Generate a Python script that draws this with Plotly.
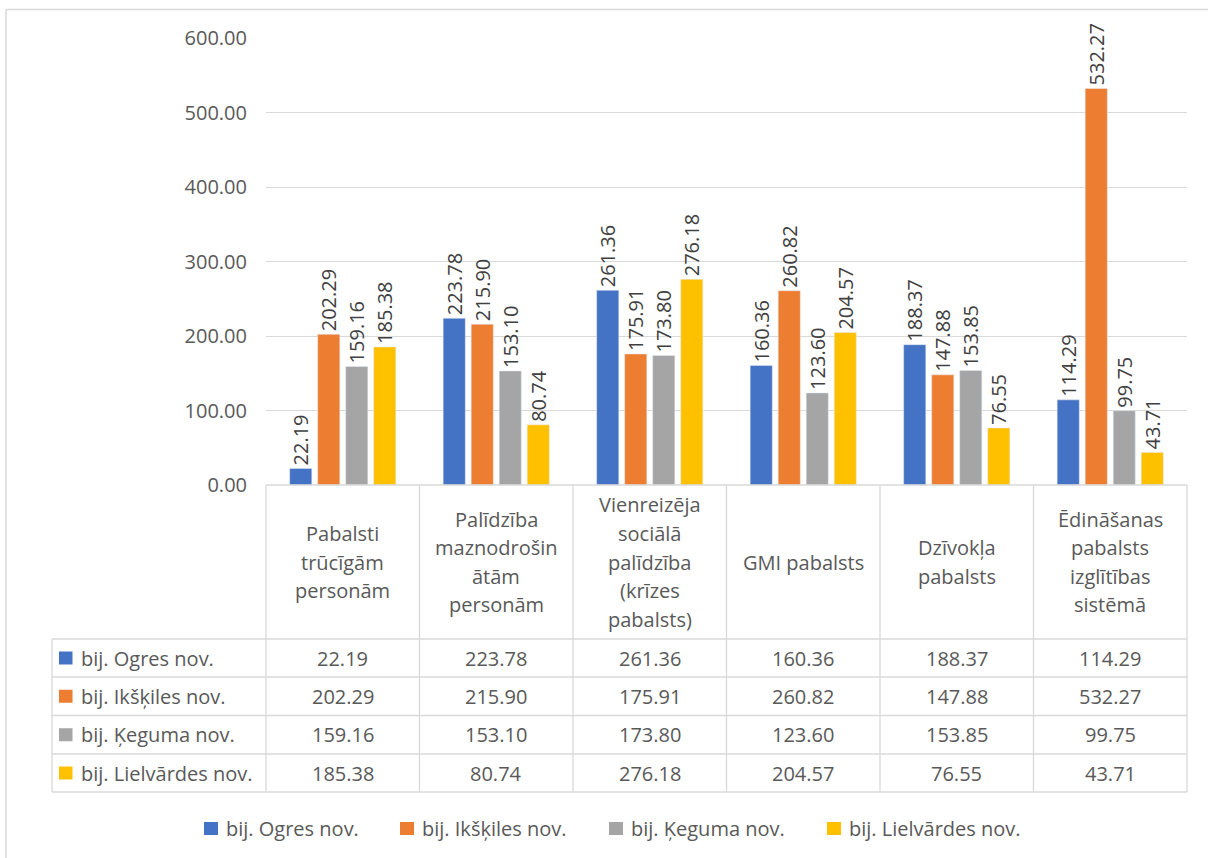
import plotly.graph_objects as go

# ---- data -------------------------------------------------------------
category_lines = [
    ["Pabalsti", "trūcīgām", "personām"],
    ["Palīdzība", "maznodrošin", "ātām", "personām"],
    ["Vienreizēja", "sociālā", "palīdzība", "(krīzes", "pabalsts)"],
    ["GMI pabalsts"],
    ["Dzīvokļa", "pabalsts"],
    ["Ēdināšanas", "pabalsts", "izglītības", "sistēmā"],
]
categories = [" ".join(lines) for lines in category_lines]

series_names = ["bij. Ogres nov.", "bij. Ikšķiles nov.", "bij. Ķeguma nov.", "bij. Lielvārdes nov."]
ogres = [22.19, 223.78, 261.36, 160.36, 188.37, 114.29]
ikskiles = [202.29, 215.90, 175.91, 260.82, 147.88, 532.27]
keguma = [159.16, 153.10, 173.80, 123.60, 153.85, 99.75]
lielvardes = [185.38, 80.74, 276.18, 204.57, 76.55, 43.71]
series_values = [ogres, ikskiles, keguma, lielvardes]
colors = ["#4472C4", "#ED7D31", "#A5A5A5", "#FFC000"]

y_ticks = [0, 100, 200, 300, 400, 500, 600]

# ---- layout geometry (pixels) ----------------------------------------
W, H = 1208, 858
FONT = "Open Sans"
GREY_TXT = "#595959"
LINE = "#d9d9d9"

plot_left, plot_right = 266, 1187
plot_top, plot_bottom = 38, 485
label_left = 52
row_lines = [639, 677, 715.5, 754, 792]
col_w = (plot_right - plot_left) / len(categories)


def px(x):
    return x / W


def py(y):
    return 1 - y / H


fig = go.Figure()
for name, vals, col in zip(series_names, series_values, colors):
    fig.add_trace(go.Bar(
        x=categories, y=vals, name=name, marker_color=col,
        texttemplate="%{y:.2f}", textposition="outside", textangle=-90,
        constraintext="none", cliponaxis=False,
        textfont=dict(family=FONT, size=20, color="#404040"),
    ))

shapes = []
annotations = []


def hline(x0, x1, y, w=1.3):
    shapes.append(dict(type="line", xref="paper", yref="paper",
                       x0=px(x0), x1=px(x1), y0=py(y), y1=py(y),
                       line=dict(color=LINE, width=w)))


def vline(x, y0, y1, w=1.3):
    shapes.append(dict(type="line", xref="paper", yref="paper",
                       x0=px(x), x1=px(x), y0=py(y0), y1=py(y1),
                       line=dict(color=LINE, width=w)))


# outer chart frame (left and top edges visible)
vline(6, 9.5, H + 5, w=1.5)
hline(6, W + 5, 9.5, w=1.5)

# data table grid
hline(plot_left, plot_right, plot_bottom)
for y in row_lines:
    hline(label_left, plot_right, y)
vline(label_left, row_lines[0], row_lines[-1])
for i in range(len(categories) + 1):
    vline(plot_left + i * col_w, plot_bottom, row_lines[-1])

# header cells: category names, wrapped
header_mid = (plot_bottom + row_lines[0]) / 2
line_step = 28.6
for i, lines in enumerate(category_lines):
    cx = plot_left + (i + 0.5) * col_w
    n = len(lines)
    for j, txt in enumerate(lines):
        cy = header_mid + (j - (n - 1) / 2) * line_step
        annotations.append(dict(xref="paper", yref="paper", x=px(cx), y=py(cy),
                                text=txt, showarrow=False, xanchor="center", yanchor="middle",
                                font=dict(family=FONT, size=20, color=GREY_TXT)))

# value rows
for r, (name, vals, col) in enumerate(zip(series_names, series_values, colors)):
    cy = (row_lines[r] + row_lines[r + 1]) / 2
    shapes.append(dict(type="rect", xref="paper", yref="paper",
                       x0=px(59), x1=px(72.5), y0=py(cy - 6.5), y1=py(cy + 6.5),
                       fillcolor=col, line=dict(width=0)))
    annotations.append(dict(xref="paper", yref="paper", x=px(79), y=py(cy),
                            text=name, showarrow=False, xanchor="left", yanchor="middle",
                            font=dict(family=FONT, size=20, color=GREY_TXT)))
    for i, v in enumerate(vals):
        cx = plot_left + (i + 0.5) * col_w
        annotations.append(dict(xref="paper", yref="paper", x=px(cx), y=py(cy),
                                text=f"{v:.2f}", showarrow=False, xanchor="center", yanchor="middle",
                                font=dict(family=FONT, size=20, color=GREY_TXT)))

# legend below the table
legend_y = 828.5
legend_x = [204, 400, 609, 827]
for name, col, lx in zip(series_names, colors, legend_x):
    shapes.append(dict(type="rect", xref="paper", yref="paper",
                       x0=px(lx), x1=px(lx + 14), y0=py(legend_y - 6.5), y1=py(legend_y + 6.5),
                       fillcolor=col, line=dict(width=0)))
    annotations.append(dict(xref="paper", yref="paper", x=px(lx + 20), y=py(legend_y),
                            text=name, showarrow=False, xanchor="left", yanchor="middle",
                            font=dict(family=FONT, size=20, color=GREY_TXT)))

fig.update_layout(
    width=W, height=H,
    margin=dict(l=0, r=0, t=0, b=0, autoexpand=False),
    paper_bgcolor="white", plot_bgcolor="white",
    barmode="group", bargap=0.27, bargroupgap=0.21,
    showlegend=False,
    shapes=shapes, annotations=annotations,
    xaxis=dict(domain=[px(plot_left), px(plot_right)], showticklabels=False,
               showgrid=False, zeroline=False, showline=False, ticks="",
               automargin=False),
    yaxis=dict(domain=[py(plot_bottom), py(plot_top)], range=[0, 600],
               tickvals=y_ticks, tickformat=".2f", showgrid=True, gridcolor=LINE,
               gridwidth=1.3, zeroline=False, showline=False, ticks="",
               ticklabelstandoff=18, automargin=False,
               tickfont=dict(family=FONT, size=20, color=GREY_TXT)),
)

fig.write_html("out.html")
